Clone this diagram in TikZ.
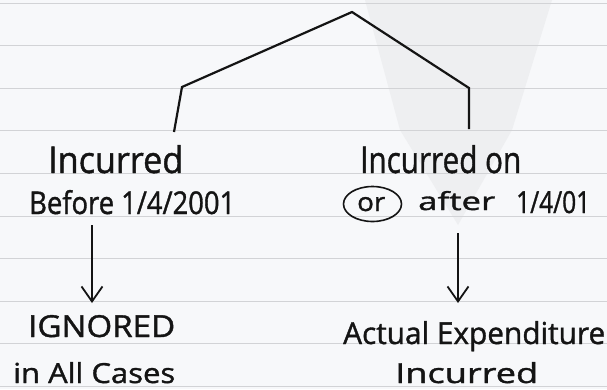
\documentclass[tikz,border=0pt]{standalone}
\usepackage{fontspec}
\setmainfont{Open Sans}[FakeBold=1.2]
\usetikzlibrary{arrows.meta,shapes.geometric}
% handwritten-size label: width, height above baseline, text
\newcommand\hwtext[3]{\resizebox{#1pt}{#2pt}{#3}}
\definecolor{paper}{HTML}{F7F8FA}
\definecolor{rule}{HTML}{D2D3D6}
\definecolor{shadow}{HTML}{EEEFF1}
\definecolor{ink}{HTML}{141414}
\tikzset{
  label/.style={inner sep=0pt, anchor=base west, text=ink},
  branch/.style={draw=ink, line width=2.2pt, line join=miter},
  downarrow/.style={draw=ink, line width=1.8pt,
    -{Straight Barb[length=15pt,width=21pt,line width=1.8pt]}},
  ruling/.style={draw=rule, line width=0.9pt},
  ring/.style={draw=ink, line width=1.6pt, ellipse, inner sep=0pt,
    minimum width=58pt, minimum height=35pt}
}
\begin{document}
\begin{tikzpicture}[x=1pt,y=-1pt]
  % ruled sheet
  \fill[paper] (0,0) rectangle (607,389);
  \fill[shadow] (365,0) -- (552,0) -- (512,130) -- (458,225) -- (400,130) -- cycle;
  \useasboundingbox (0,0) rectangle (607,389);
  \foreach \k in {0,...,9}
    \draw[ruling] (0,{3+42.6*\k}) -- (607,{3+42.6*\k});

  % branching lines
  \coordinate (apex) at (352,12);
  \coordinate (lcorner) at (182,87);
  \coordinate (rcorner) at (469,88);
  \coordinate (lfoot) at (174,132);
  \coordinate (rfoot) at (469,129);
  \draw[branch] (lfoot) -- (lcorner) -- (apex) -- (rcorner) -- (rfoot);

  % left branch
  \node[label] (lone) at (48,173) {\hwtext{135}{28}{Incurred}};
  \node[label] (ltwo) at (29,214) {\hwtext{206}{24}{Before 1/4/2001}};
  \node[label] (lres) at (28,337) {\hwtext{147}{22}{IGNORED}};
  \node[label] (lnote) at (13,383) {\hwtext{162}{21}{in All Cases}};

  % right branch
  \node[label] (rone) at (360,173) {\hwtext{161}{28}{Incurred on}};
  \node[ring] (orring) at (372.5,204) {};
  \node[label] (ortext) at (357,211) {\hwtext{28}{14}{or}};
  \node[label] (after) at (418,210) {\hwtext{77}{19}{after}};
  \node[label] (rdate) at (516,213) {\hwtext{74}{22}{1/4/01}};
  \node[label] (rres) at (343,344) {\hwtext{262}{23}{Actual Expenditure}};
  \node[label] (rnote) at (395,383) {\hwtext{143}{21}{Incurred}};

  % arrows
  \coordinate (ltail) at (92,225);
  \coordinate (lhead) at (92,303);
  \coordinate (rtail) at (458,233);
  \coordinate (rhead) at (458,303);
  \draw[downarrow] (ltail) -- (lhead);
  \draw[downarrow] (rtail) -- (rhead);
\end{tikzpicture}
\end{document}
